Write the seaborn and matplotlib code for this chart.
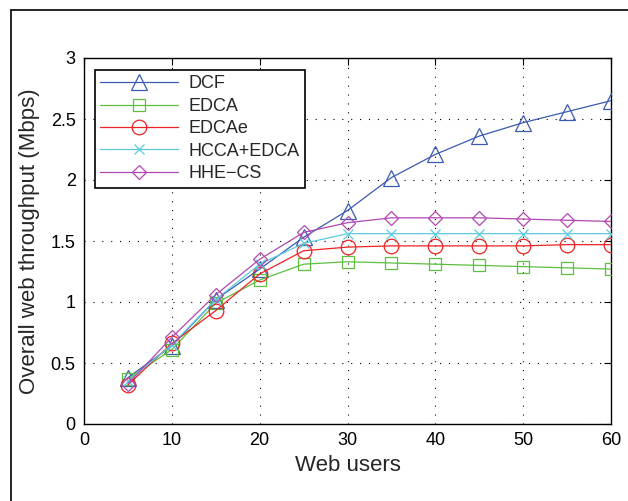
import numpy as np
import pandas as pd
import seaborn as sns
import matplotlib.pyplot as plt
from matplotlib.lines import Line2D

# data
users = [5, 10, 15, 20, 25, 30, 35, 40, 45, 50, 55, 60]
dcf = [0.38, 0.64, 1.02, 1.27, 1.53, 1.75, 2.02, 2.21, 2.36, 2.47, 2.56, 2.65]
edca = [0.37, 0.61, 0.99, 1.18, 1.31, 1.33, 1.32, 1.31, 1.30, 1.29, 1.28, 1.27]
edcae = [0.32, 0.66, 0.93, 1.23, 1.42, 1.45, 1.46, 1.46, 1.46, 1.46, 1.47, 1.47]
hcca = [0.35, 0.65, 1.02, 1.31, 1.48, 1.56, 1.56, 1.56, 1.56, 1.56, 1.56, 1.56]
hhe = [0.33, 0.71, 1.06, 1.35, 1.57, 1.65, 1.69, 1.69, 1.69, 1.68, 1.67, 1.66]

names = ["DCF", "EDCA", "EDCAe", "HCCA+EDCA", "HHE\u2212CS"]
series = [dcf, edca, edcae, hcca, hhe]
colors = ["#3b5bb2", "#5cbf3f", "#ee2222", "#5ccbe0", "#b148b1"]
markers = ["^", "s", "o", "x", "D"]
msizes = [11, 8.5, 10.5, 7.5, 7.5]

sns.set_style("white")
plt.rcParams['font.family'] = ['Liberation Sans', 'DejaVu Sans']

fig = plt.figure(figsize=(6.28, 5.01), dpi=100)
ax = fig.add_axes([84/628, 1-424/501, 527/628, 366/501])

for name, vals, c, m, ms in zip(names, series, colors, markers, msizes):
    df = pd.DataFrame({"users": users, "thr": vals})
    sns.lineplot(data=df, x="users", y="thr", color=c, marker=m, markersize=ms,
                 mfc="none", mec=c, mew=0.9, lw=0.9, label=name, ax=ax, zorder=3)

ax.set_xlim(0, 60)
ax.set_ylim(0, 3)
ax.set_xticks(np.arange(0, 61, 10))
ax.set_yticks(np.arange(0, 3.01, 0.5))
ax.set_yticklabels(["0", "0.5", "1", "1.5", "2", "2.5", "3"])
ax.tick_params(direction="in", length=5, width=0.8, top=True, right=True,
               labelsize=13, colors="black", pad=6)
ax.grid(True, color="black", linestyle=(0, (1, 7)), linewidth=0.8)
for s in ax.spines.values():
    s.set_color("black")
    s.set_linewidth(1.0)

ax.set_xlabel("Web users", fontsize=16, labelpad=4)
ax.set_ylabel("Overall web throughput (Mbps)", fontsize=16, labelpad=8)

handles = [Line2D([], [], color=c, marker=m, markersize=ms, mfc="none", mec=c,
                  mew=0.9, lw=0.9) for c, m, ms in zip(colors, markers, msizes)]
leg = ax.legend(handles, names, loc="upper left", bbox_to_anchor=(0.021, 0.967),
                fontsize=13, handlelength=4.3, labelspacing=0.3, borderpad=0.3,
                handletextpad=0.6, fancybox=False, framealpha=1, borderaxespad=0)
leg.get_frame().set_edgecolor("black")
leg.get_frame().set_linewidth(1.2)

# outer page frame
fig.add_artist(Line2D([11/628, 11/628], [0, 1-10/501], color="black", lw=1.2,
                      transform=fig.transFigure))
fig.add_artist(Line2D([11/628, 1], [1-10/501, 1-10/501], color="black", lw=1.2,
                      transform=fig.transFigure))

fig.savefig("out.png", dpi=100)
